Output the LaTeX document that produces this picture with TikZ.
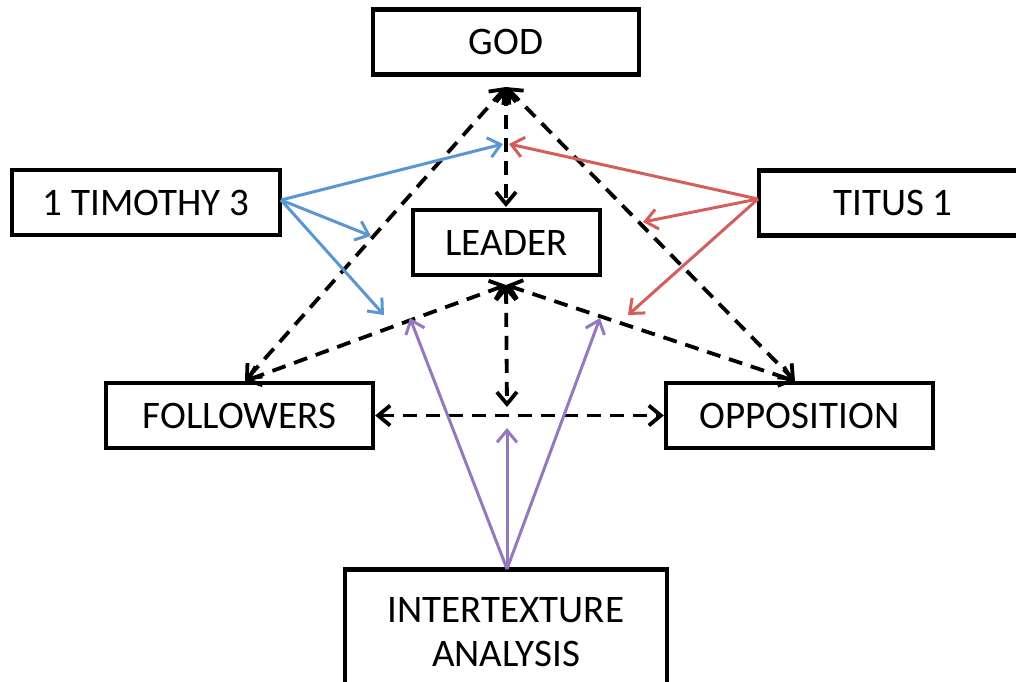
\documentclass[tikz,border=0pt]{standalone}
\usepackage{fontspec}
\setmainfont{Carlito}
\usetikzlibrary{arrows.meta}
\definecolor{cblue}{RGB}{90,150,210}
\definecolor{cred}{RGB}{210,95,90}
\definecolor{cpurple}{RGB}{150,120,190}
\begin{document}
\begin{tikzpicture}[x=0.5pt,y=-0.5pt,
  box/.style={draw=black,line width=2.2pt,fill=white,inner sep=0pt,align=center,
    font=\fontsize{19.5}{22}\selectfont,minimum height=32.5pt},
  dlink/.style={draw=black,line width=1.9pt,dash pattern=on 7pt off 4.5pt,
    {Straight Barb[length=6pt,width=10pt,line width=1.9pt]}-{Straight Barb[length=6pt,width=10pt,line width=1.9pt]}},
  clink/.style={line width=1.5pt,-{Straight Barb[length=6pt,width=10pt,line width=1.5pt]}}]
\useasboundingbox (0,0) rectangle (1016,681);
% boxes
\node[box,minimum width=133pt] (god) at (506,42) {GOD};
\node[box,minimum width=93.5pt] (leader) at (506.5,242.5) {LEADER};
\node[box,minimum width=134pt] (tim) at (146,202.5) {1 TIMOTHY 3};
\node[box,minimum width=134pt] (titus) at (893,203) {TITUS 1};
\node[box,minimum width=133.5pt] (fol) at (239.5,415.5) {FOLLOWERS};
\node[box,minimum width=133.5pt] (opp) at (799.5,415.5) {OPPOSITION};
\node[box,minimum width=161pt,minimum height=62.5pt] (inter) at (506,632) {INTERTEXTURE\\ANALYSIS};
% junction coordinates
\coordinate (gbot) at (506,87);
\coordinate (lbot) at (506,285);
\coordinate (ltop) at (506,207);
\coordinate (ftop) at (245,381);
\coordinate (otop) at (795,381);
\coordinate (mid) at (507,407);
\coordinate (hmid) at (507,428);
\coordinate (tl1) at (503,144);
\coordinate (tl2) at (371,236);
\coordinate (tl3) at (384,315);
\coordinate (tr1) at (509,144);
\coordinate (tr2) at (643,222);
\coordinate (tr3) at (628,315);
\coordinate (pl) at (410,318);
\coordinate (pr) at (600,318);
\coordinate (timo) at (281,200);
\coordinate (tito) at (758,199);
\coordinate (itop) at (507,569);
% dashed relations
\draw[dlink] (gbot) -- (ftop);
\draw[dlink] (gbot) -- (ltop);
\draw[dlink] (gbot) -- (otop);
\draw[dlink] (lbot) -- (ftop);
\draw[dlink] (lbot) -- (otop);
\draw[dlink] (lbot) -- (mid);
\draw[dlink] (fol.east) -- (opp.west);
% coloured arrows
\draw[clink,cblue] (timo) -- (tl1);
\draw[clink,cblue] (timo) -- (tl2);
\draw[clink,cblue] (timo) -- (tl3);
\draw[clink,cred] (tito) -- (tr1);
\draw[clink,cred] (tito) -- (tr2);
\draw[clink,cred] (tito) -- (tr3);
\draw[clink,cpurple] (itop) -- (pl);
\draw[clink,cpurple] (itop) -- (hmid);
\draw[clink,cpurple] (itop) -- (pr);
\end{tikzpicture}
\end{document}
